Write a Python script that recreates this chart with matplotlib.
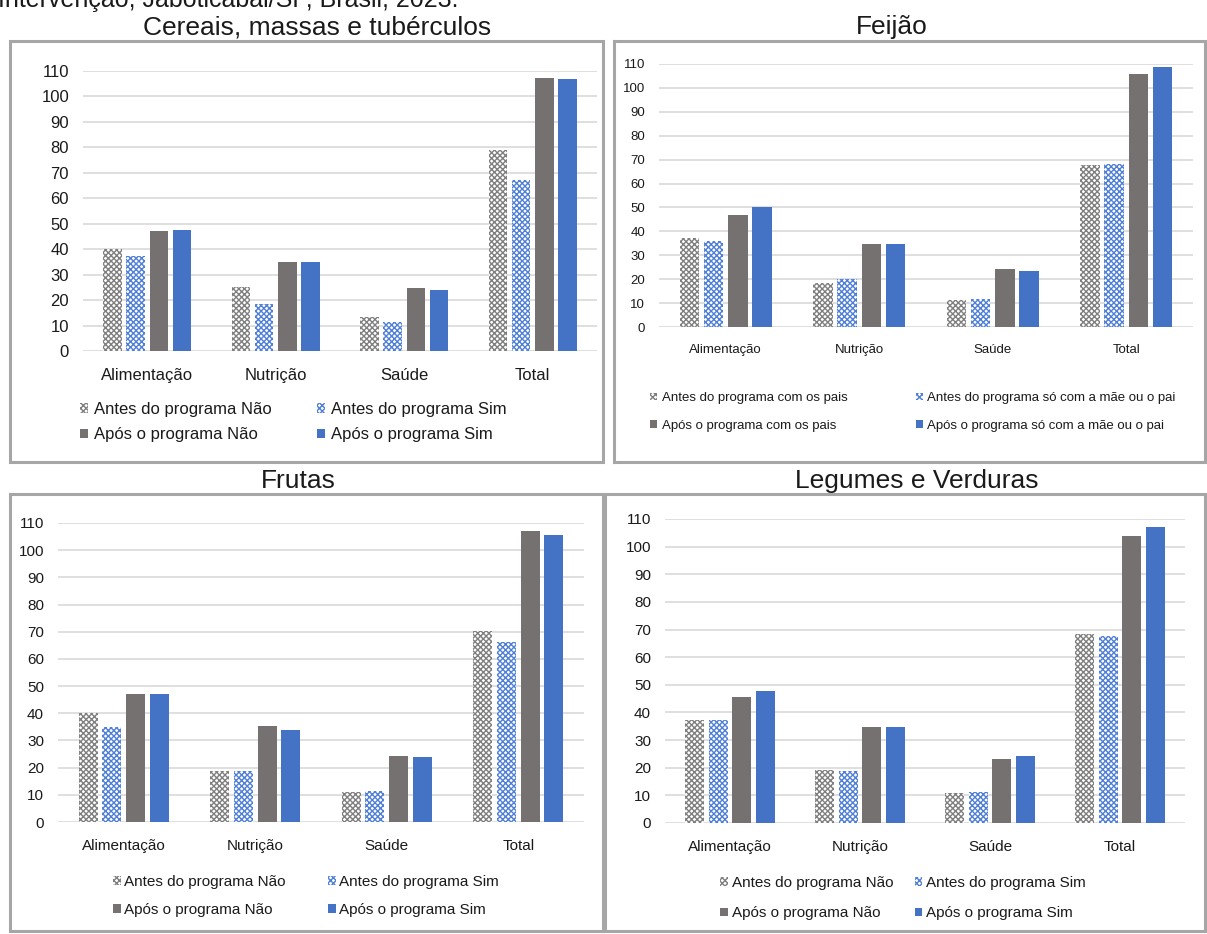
import numpy as np
import matplotlib
matplotlib.use("Agg")
import matplotlib.pyplot as plt

W, H = 1207, 934

CATEGORIAS = ["Alimentação", "Nutrição", "Saúde", "Total"]

# Cereais, massas e tubérculos
CEREAIS_ANTES_NAO = [40.0, 25.3, 13.4, 79.0]
CEREAIS_ANTES_SIM = [37.3, 18.4, 11.4, 67.2]
CEREAIS_APOS_NAO = [47.1, 35.0, 24.9, 107.2]
CEREAIS_APOS_SIM = [47.4, 34.8, 23.9, 106.8]

# Feijão
FEIJAO_ANTES_PAIS = [37.4, 18.3, 11.1, 67.8]
FEIJAO_ANTES_UM = [36.1, 20.0, 11.6, 68.0]
FEIJAO_APOS_PAIS = [46.7, 34.9, 24.3, 105.7]
FEIJAO_APOS_UM = [50.1, 34.9, 23.5, 108.8]

# Frutas
FRUTAS_ANTES_NAO = [40.1, 18.9, 11.0, 70.4]
FRUTAS_ANTES_SIM = [35.1, 18.9, 11.5, 66.4]
FRUTAS_APOS_NAO = [47.2, 35.4, 24.1, 107.1]
FRUTAS_APOS_SIM = [47.2, 34.0, 23.9, 105.6]

# Legumes e Verduras
LEGUMES_ANTES_NAO = [37.3, 19.1, 10.9, 68.3]
LEGUMES_ANTES_SIM = [37.3, 18.9, 11.2, 67.7]
LEGUMES_APOS_NAO = [45.6, 34.6, 23.3, 104.0]
LEGUMES_APOS_SIM = [47.8, 34.6, 24.3, 107.2]

SERIES_SIM_NAO = ["Antes do programa Não", "Antes do programa Sim",
                  "Após o programa Não", "Após o programa Sim"]
SERIES_PAIS = ["Antes do programa com os pais", "Antes do programa só com a mãe ou o pai",
               "Após o programa com os pais", "Após o programa só com a mãe ou o pai"]

ESTILOS = [
    dict(facecolor="white", edgecolor="#7F7F7F", hatch="xxxxxx"),
    dict(facecolor="white", edgecolor="#4F7FD6", hatch="xxxxxx"),
    dict(facecolor="#767171", edgecolor="#767171"),
    dict(facecolor="#4472C4", edgecolor="#4472C4"),
]

plt.rcParams["font.family"] = ["Liberation Sans", "DejaVu Sans"]
plt.rcParams["hatch.linewidth"] = 1.0
TXT = "#1A1A1A"


def px(l, t, r, b):
    return [l / W, 1 - b / H, (r - l) / W, (b - t) / H]


def painel(fig, titulo, series, nomes, eixo, moldura, titulo_xy, leg_xy,
           tam, leg_tam, colsp, rowsp, txtpad=0.35):
    l, t, r, b = moldura
    fig.patches.append(plt.Rectangle((l / W, 1 - b / H), (r - l) / W, (b - t) / H,
                                     transform=fig.transFigure, fill=False,
                                     edgecolor="#A6A6A6", linewidth=2.2))
    fig.text(titulo_xy[0] / W, 1 - titulo_xy[1] / H, titulo, ha="center", va="center",
             fontsize=19, color=TXT)

    ax = fig.add_axes(px(*eixo))
    x = np.arange(len(CATEGORIAS))
    barras = []
    for k, (vals, st) in enumerate(zip(series, ESTILOS)):
        barras.append(ax.bar(x + (k - 1.5) * 0.181, vals, width=0.145, linewidth=0,
                             zorder=3, label=nomes[k], **st))
    ax.set_xlim(-0.5, len(CATEGORIAS) - 0.5)
    ax.set_ylim(0, 110)
    ax.set_yticks(range(0, 111, 10))
    ax.set_xticks(x)
    ax.set_xticklabels(CATEGORIAS, fontsize=tam, color=TXT)
    for lab in ax.get_yticklabels():
        lab.set_fontsize(tam)
        lab.set_color(TXT)
    ax.grid(axis="y", color="#D9D9D9", linewidth=1.2, zorder=0)
    for s in ax.spines.values():
        s.set_visible(False)
    ax.tick_params(axis="both", length=0)
    ax.tick_params(axis="x", pad=12)
    ax.tick_params(axis="y", pad=10)

    # legend filled row by row: "Antes" on the first line, "Após" on the second
    ordem = [0, 2, 1, 3]
    fig.legend([barras[i] for i in ordem], [nomes[i] for i in ordem],
               loc="center", bbox_to_anchor=(leg_xy[0] / W, 1 - leg_xy[1] / H),
               ncol=2, frameon=False, handlelength=0.5, handleheight=0.5,
               handletextpad=txtpad, columnspacing=colsp, labelspacing=rowsp,
               fontsize=leg_tam, labelcolor=TXT)
    return ax


fig = plt.figure(figsize=(W / 100, H / 100), dpi=100)

fig.text(-2 / W, 1 - 7 / H, "Intervenção, Jaboticabal/SP, Brasil, 2023.",
         ha="left", va="baseline", fontsize=18, color=TXT)

painel(fig, "Cereais, massas e tubérculos",
       [CEREAIS_ANTES_NAO, CEREAIS_ANTES_SIM, CEREAIS_APOS_NAO, CEREAIS_APOS_SIM],
       SERIES_SIM_NAO, eixo=(83, 71, 597, 351), moldura=(10, 41, 603, 462),
       titulo_xy=(317, 27), leg_xy=(293, 422),
       tam=12, leg_tam=12, colsp=2.7, rowsp=0.62)

painel(fig, "Feijão",
       [FEIJAO_ANTES_PAIS, FEIJAO_ANTES_UM, FEIJAO_APOS_PAIS, FEIJAO_APOS_UM],
       SERIES_PAIS, eixo=(659, 64, 1193, 327), moldura=(614, 41, 1205, 462),
       titulo_xy=(892, 27), leg_xy=(913, 412),
       tam=9.5, leg_tam=9.5, colsp=5.2, rowsp=1.2)

painel(fig, "Frutas",
       [FRUTAS_ANTES_NAO, FRUTAS_ANTES_SIM, FRUTAS_APOS_NAO, FRUTAS_APOS_SIM],
       SERIES_SIM_NAO, eixo=(58, 523, 584, 822), moldura=(10, 494, 603, 931),
       titulo_xy=(298, 481), leg_xy=(306, 896),
       tam=11, leg_tam=11, colsp=2.8, rowsp=0.9, txtpad=0.2)

painel(fig, "Legumes e Verduras",
       [LEGUMES_ANTES_NAO, LEGUMES_ANTES_SIM, LEGUMES_APOS_NAO, LEGUMES_APOS_SIM],
       SERIES_SIM_NAO, eixo=(665, 519, 1185, 823), moldura=(605, 494, 1205, 931),
       titulo_xy=(917, 481), leg_xy=(903, 898),
       tam=11, leg_tam=11, colsp=1.4, rowsp=1.09, txtpad=0.25)

fig.savefig("out.png", dpi=100)
